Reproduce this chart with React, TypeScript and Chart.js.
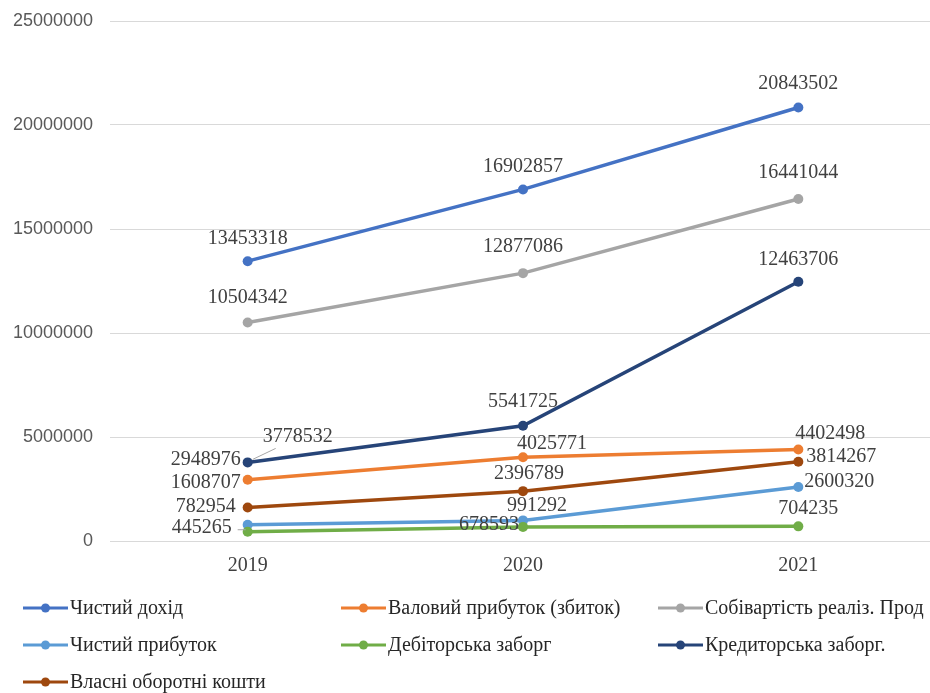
import React, { useEffect, useRef } from "react";
import { Chart, registerables } from "chart.js";

Chart.register(...registerables);

// ---- data ----
const categories = ["2019", "2020", "2021"];
const seriesNames = [
  "Чистий дохід",
  "Валовий прибуток (збиток)",
  "Собівартість реаліз. Прод",
  "Чистий прибуток",
  "Дебіторська заборг",
  "Кредиторська заборг.",
  "Власні оборотні кошти",
];
const chystyiDokhid = [13453318, 16902857, 20843502];
const valovyiPrybutok = [2948976, 4025771, 4402498];
const sobivartist = [10504342, 12877086, 16441044];
const chystyiPrybutok = [782954, 991292, 2600320];
const debitorska = [445265, 678593, 704235];
const kredytorska = [3778532, 5541725, 12463706];
const vlasniKoshty = [1608707, 2396789, 3814267];
const yTickValues = [0, 5000000, 10000000, 15000000, 20000000, 25000000];

// ---- styles ----
const seriesColors = ["#4472C4", "#ED7D31", "#A5A5A5", "#5B9BD5", "#70AD47", "#264478", "#9E480E"];
// label offsets (dx, dy) relative to the point, per series per category
const labelOffsets: number[][][] = [
  [[0, -22], [0, -23], [0, -24]],
  [[-42, -20], [29, -14], [32, -16]],
  [[0, -25], [0, -26], [0, -26]],
  [[-42, -18], [14, -15], [41, -5]],
  [[-46, -4], [-34, -2], [10, -18]],
  [[50, -26], [0, -24], [0, -22]],
  [[-42, -25], [6, -17], [43, -5]],
];
const legendCols = [70, 388, 705];
const legendRows = [608, 645, 682];
const SERIF = "'Liberation Serif', 'Times New Roman', serif";
const SANS = "'Liberation Sans', Arial, sans-serif";
const CANVAS_W = 941;

const allSeries = [
  chystyiDokhid,
  valovyiPrybutok,
  sobivartist,
  chystyiPrybutok,
  debitorska,
  kredytorska,
  vlasniKoshty,
];

const labelsPlugin = {
  id: "valueLabels",
  afterDatasetsDraw(chart: any) {
    const ctx = chart.ctx;
    ctx.save();
    ctx.font = `20px ${SERIF}`;
    ctx.fillStyle = "#404040";
    ctx.textAlign = "center";
    ctx.textBaseline = "middle";
    chart.data.datasets.forEach((ds: any, i: number) => {
      const meta = chart.getDatasetMeta(i);
      meta.data.forEach((pt: any, j: number) => {
        const [dx, dy] = labelOffsets[i][j];
        ctx.strokeStyle = "#A6A6A6";
        ctx.lineWidth = 1;
        // leader lines for labels pulled away from their points
        if (dx > 45 && dy < -20) {
          ctx.beginPath();
          ctx.moveTo(pt.x + 5, pt.y - 3);
          ctx.lineTo(pt.x + 28, pt.y - 14);
          ctx.stroke();
        } else if (dx < -45) {
          ctx.beginPath();
          ctx.moveTo(pt.x - 10, pt.y - 2);
          ctx.lineTo(pt.x - 2, pt.y - 2);
          ctx.stroke();
        }
        ctx.fillText(String(ds.data[j]), pt.x + dx, pt.y + dy);
      });
    });
    ctx.restore();
  },
};

const legendPlugin = {
  id: "gridLegend",
  afterDraw(chart: any) {
    const ctx = chart.ctx;
    ctx.save();
    ctx.font = `20px ${SERIF}`;
    ctx.textBaseline = "middle";
    ctx.textAlign = "left";
    chart.data.datasets.forEach((ds: any, i: number) => {
      const tx = legendCols[i % 3];
      const y = legendRows[Math.floor(i / 3)];
      const x0 = tx - 47;
      const x1 = tx - 2;
      ctx.strokeStyle = ds.borderColor;
      ctx.lineWidth = 3;
      ctx.beginPath();
      ctx.moveTo(x0, y);
      ctx.lineTo(x1, y);
      ctx.stroke();
      ctx.fillStyle = ds.borderColor;
      ctx.beginPath();
      ctx.arc((x0 + x1) / 2, y, 4.5, 0, Math.PI * 2);
      ctx.fill();
      ctx.fillStyle = "#262626";
      ctx.fillText(ds.label, tx, y + 1);
    });
    ctx.restore();
  },
};

function LineChart() {
  const ref = useRef<HTMLCanvasElement | null>(null);
  useEffect(() => {
    if (!ref.current) return;
    const chart = new Chart(ref.current, {
      type: "line",
      data: {
        labels: categories,
        datasets: allSeries.map((data, i) => ({
          label: seriesNames[i],
          data,
          borderColor: seriesColors[i],
          backgroundColor: seriesColors[i],
          borderWidth: 3.5,
          pointRadius: 5,
          pointBorderWidth: 0,
          pointBackgroundColor: seriesColors[i],
          tension: 0,
          order: allSeries.length - i,
        })),
      },
      options: {
        animation: false,
        responsive: false,
        maintainAspectRatio: false,
        layout: { padding: { top: 21, left: 0, right: 0, bottom: 0 } },
        plugins: {
          legend: { display: false },
          tooltip: { enabled: false },
        },
        scales: {
          x: {
            offset: true,
            grid: { display: false, drawTicks: false },
            border: { display: true, color: "#D9D9D9", width: 1 },
            ticks: {
              color: "#404040",
              font: { family: SERIF, size: 20 },
              padding: 13,
              maxRotation: 0,
              autoSkip: false,
            },
            afterFit(scale: any) {
              scale.height = 152;
              scale.paddingLeft = 0;
              scale.paddingRight = 0;
            },
          },
          y: {
            min: 0,
            max: 25000000,
            afterBuildTicks(scale: any) {
              scale.ticks = yTickValues.map((v) => ({ value: v }));
            },
            grid: { color: "#D9D9D9", lineWidth: 1, drawTicks: false },
            border: { display: false },
            ticks: {
              color: "#595959",
              font: { family: SANS, size: 18 },
              padding: 17,
              callback: (v: any) => String(v),
            },
            afterFit(scale: any) {
              scale.width = 110;
              scale.paddingTop = 0;
              scale.paddingBottom = 0;
            },
          },
        },
      },
      plugins: [labelsPlugin, legendPlugin],
    });
    return () => chart.destroy();
  }, []);
  return (
    <canvas
      ref={ref}
      width={CANVAS_W}
      height={693}
      style={{ display: "block", width: CANVAS_W, height: 693, maxWidth: "none" }}
    />
  );
}

export default function App() {
  return (
    <div
      style={{
        position: "fixed",
        left: 0,
        top: 0,
        width: 930,
        height: 693,
        overflow: "hidden",
        background: "#fff",
      }}
    >
      <div style={{ width: CANVAS_W, height: 693 }}>
        <LineChart />
      </div>
    </div>
  );
}
